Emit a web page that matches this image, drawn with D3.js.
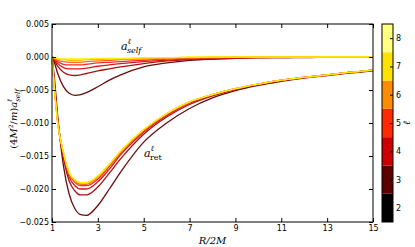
<!DOCTYPE html>
<html>
<head>
<meta charset="utf-8">
<script src="https://cdn.jsdelivr.net/npm/d3@7"></script>
<style>
  body { margin: 0; background: #fff; }
  .tick text { font-family: "DejaVu Sans", sans-serif; font-size: 8px; fill: #000; }
  .tick line { stroke: #000; }
  .math { font-family: "DejaVu Serif", serif; font-style: italic; fill: #000; }
</style>
</head>
<body>
<div id="chart"></div>
<script>
// radius grid R/2M
const R = [1, 1.1, 1.25, 1.5, 1.75, 2, 2.25, 2.5, 3, 3.5, 4, 5, 6, 7, 8, 9, 10, 11, 12, 13, 15];

// retarded field modes, l = 2..8
const retL2 = [0, -0.0030, -0.0090, -0.0165, -0.0208, -0.0230, -0.0239, -0.0240, -0.0225, -0.0200, -0.0174, -0.0129, -0.0100, -0.0078, -0.0062, -0.0051, -0.0043, -0.0037, -0.0032, -0.0028, -0.0021];
const retL3 = [0, -0.0039, -0.0096, -0.0153, -0.0188, -0.0203, -0.0209, -0.0209, -0.0197, -0.0176, -0.0154, -0.0117, -0.0091, -0.0072, -0.0059, -0.0049, -0.0042, -0.0036, -0.0031, -0.0027, -0.0020];
const retL4 = [0, -0.0042, -0.0098, -0.0149, -0.0182, -0.0195, -0.0200, -0.0200, -0.0189, -0.0170, -0.0148, -0.0114, -0.0089, -0.0070, -0.0058, -0.0049, -0.0041, -0.0035, -0.0031, -0.0027, -0.0020];
const retL5 = [0, -0.0043, -0.0099, -0.0147, -0.0178, -0.0190, -0.0195, -0.0195, -0.0185, -0.0166, -0.0145, -0.0112, -0.0087, -0.0069, -0.0057, -0.0048, -0.0041, -0.0035, -0.0031, -0.0027, -0.0020];
const retL6 = [0, -0.0044, -0.0099, -0.0146, -0.0177, -0.0189, -0.0193, -0.0193, -0.0183, -0.0164, -0.0144, -0.0111, -0.0086, -0.0068, -0.0057, -0.0048, -0.0041, -0.0035, -0.0031, -0.0027, -0.0020];
const retL7 = [0, -0.0045, -0.0100, -0.0145, -0.0176, -0.0187, -0.0191, -0.0191, -0.0181, -0.0163, -0.0143, -0.0110, -0.0086, -0.0068, -0.0057, -0.0048, -0.0041, -0.0035, -0.0031, -0.0027, -0.0020];
const retL8 = [0, -0.0045, -0.0100, -0.0145, -0.0175, -0.0186, -0.0190, -0.0190, -0.0180, -0.0162, -0.0142, -0.0110, -0.0086, -0.0068, -0.0057, -0.0048, -0.0041, -0.0035, -0.0031, -0.0027, -0.0020];

// self-force modes, l = 2..8
const selfL2 = [0, -0.0008, -0.0025, -0.0045, -0.0055, -0.0058, -0.0057, -0.0054, -0.0045, -0.0035, -0.0027, -0.0015, -0.0009, -0.0005, -0.0003, -0.0002, -0.0001, -0.0001, -0.0001, 0, 0];
const selfL3 = [0, -0.0005, -0.0014, -0.0023, -0.0027, -0.0028, -0.0027, -0.0025, -0.0021, -0.0018, -0.0015, -0.0010, -0.0006, -0.0004, -0.0003, -0.0002, -0.0001, -0.0001, 0, 0, 0];
const selfL4 = [0, -0.0004, -0.0010, -0.0016, -0.0018, -0.0018, -0.0018, -0.0017, -0.0014, -0.0012, -0.0010, -0.0007, -0.0005, -0.0003, -0.0002, -0.0001, -0.0001, 0, 0, 0, 0];
const selfL5 = [0, -0.0003, -0.0007, -0.0011, -0.0012, -0.0012, -0.0012, -0.0011, -0.0009, -0.0008, -0.0007, -0.0005, -0.0003, -0.0002, -0.0001, -0.0001, 0, 0, 0, 0, 0];
const selfL6 = [0, -0.0002, -0.0005, -0.0007, -0.0008, -0.0008, -0.0008, -0.0007, -0.0006, -0.0005, -0.0004, -0.0003, -0.0002, -0.0001, -0.0001, 0, 0, 0, 0, 0, 0];
const selfL7 = [0, -0.0001, -0.0003, -0.0004, -0.0005, -0.0005, -0.0005, -0.0004, -0.0004, -0.0003, -0.0003, -0.0002, -0.0001, -0.0001, 0, 0, 0, 0, 0, 0, 0];
const selfL8 = [0, -0.0001, -0.0002, -0.0003, -0.0003, -0.0003, -0.0003, -0.0003, -0.0002, -0.0002, -0.0002, -0.0001, -0.0001, 0, 0, 0, 0, 0, 0, 0, 0];

const ells = [2, 3, 4, 5, 6, 7, 8];
const retSeries = [retL2, retL3, retL4, retL5, retL6, retL7, retL8];
const selfSeries = [selfL2, selfL3, selfL4, selfL5, selfL6, selfL7, selfL8];
const curveColors = ["#6a0c0c", "#a81212", "#d41a1a", "#f0302a", "#ff6a2a", "#ffb800", "#ffee00"];
const barColors = ["#000000", "#5c0000", "#cc0000", "#ff2a00", "#ff8c00", "#ffe200", "#ffff80"];

const xTicks = [1, 3, 5, 7, 9, 11, 13, 15];
const yTicks = [0.005, 0, -0.005, -0.010, -0.015, -0.020, -0.025];

const W = 415, H = 247;
const margin = { top: 24, right: 42, bottom: 25, left: 52 };
const x0 = margin.left, x1 = W - margin.right, y0 = margin.top, y1 = H - margin.bottom;

const svg = d3.select("#chart").append("svg")
  .attr("width", W).attr("height", H);

const x = d3.scaleLinear().domain([1, 15]).range([x0, x1]);
const y = d3.scaleLinear().domain([-0.025, 0.005]).range([y1, y0]);

// curves
const line = d3.line()
  .x((d, i) => x(R[i]))
  .y(d => y(d))
  .curve(d3.curveMonotoneX);

const plot = svg.append("g");
ells.forEach((l, k) => {
  plot.append("path")
    .attr("d", line(retSeries[k]))
    .attr("fill", "none")
    .attr("stroke", curveColors[k])
    .attr("stroke-width", 1.3);
  plot.append("path")
    .attr("d", line(selfSeries[k]))
    .attr("fill", "none")
    .attr("stroke", curveColors[k])
    .attr("stroke-width", 1.3);
});

// axes, ticks pointing inward on all sides
svg.append("g")
  .attr("transform", `translate(0,${y1})`)
  .call(d3.axisBottom(x).tickValues(xTicks).tickFormat(d3.format("d")).tickSizeInner(-4).tickSizeOuter(0).tickPadding(3))
  .call(g => g.select(".domain").remove());
svg.append("g")
  .attr("transform", `translate(0,${y0})`)
  .call(d3.axisTop(x).tickValues(xTicks).tickFormat("").tickSizeInner(-4).tickSizeOuter(0))
  .call(g => g.select(".domain").remove());
svg.append("g")
  .attr("transform", `translate(${x0},0)`)
  .call(d3.axisLeft(y).tickValues(yTicks).tickFormat(d3.format(".3f")).tickSizeInner(-4).tickSizeOuter(0).tickPadding(3))
  .call(g => g.select(".domain").remove());
svg.append("g")
  .attr("transform", `translate(${x1},0)`)
  .call(d3.axisRight(y).tickValues(yTicks).tickFormat("").tickSizeInner(-4).tickSizeOuter(0))
  .call(g => g.select(".domain").remove());

svg.append("rect")
  .attr("x", x0).attr("y", y0)
  .attr("width", x1 - x0).attr("height", y1 - y0)
  .attr("fill", "none").attr("stroke", "#000").attr("stroke-width", 1);

// colorbar
const cbX = 382, cbW = 11;
const cy = d3.scaleLinear().domain([1.5, 8.5]).range([y1, y0]);
svg.selectAll(".band")
  .data(ells)
  .join("rect")
    .attr("class", "band")
    .attr("x", cbX)
    .attr("y", d => cy(d + 0.5))
    .attr("width", cbW)
    .attr("height", d => cy(d - 0.5) - cy(d + 0.5))
    .attr("fill", (d, i) => barColors[i]);
svg.append("g")
  .attr("transform", `translate(${cbX + cbW},0)`)
  .call(d3.axisRight(cy).tickValues(ells).tickFormat(d3.format("d")).tickSizeInner(-3).tickSizeOuter(0).tickPadding(3))
  .call(g => g.select(".domain").remove());
svg.append("rect")
  .attr("x", cbX).attr("y", y0)
  .attr("width", cbW).attr("height", y1 - y0)
  .attr("fill", "none").attr("stroke", "#000").attr("stroke-width", 1);
svg.append("text")
  .attr("class", "math")
  .attr("transform", `translate(410,${(y0 + y1) / 2}) rotate(-90)`)
  .attr("text-anchor", "middle")
  .style("font-size", "10px")
  .text("ℓ");

// axis labels
svg.append("text")
  .attr("class", "math")
  .attr("x", (x0 + x1) / 2).attr("y", 244)
  .attr("text-anchor", "middle")
  .style("font-size", "10px")
  .text("R/2M");

const yl = svg.append("text")
  .attr("class", "math")
  .attr("transform", `translate(17,${(y0 + y1) / 2 - 4}) rotate(-90)`)
  .attr("text-anchor", "middle")
  .style("font-size", "10px");
yl.append("tspan").style("font-style", "normal").text("(4");
yl.append("tspan").text("M");
yl.append("tspan").attr("dy", -4).style("font-size", "6px").style("font-style", "normal").text("2");
yl.append("tspan").attr("dy", 4).style("font-style", "normal").text("/");
yl.append("tspan").text("m");
yl.append("tspan").style("font-style", "normal").text(")");
yl.append("tspan").text("a");
yl.append("tspan").attr("dy", -5).style("font-size", "7px").text("ℓ");
yl.append("tspan").attr("dx", -3).attr("dy", 8).style("font-size", "7px").text("self");

// annotations
function label(px, py, sub, italicSub) {
  const t = svg.append("text").attr("class", "math")
    .attr("x", px).attr("y", py).style("font-size", "11px");
  t.append("tspan").text("a");
  t.append("tspan").attr("dy", -6).style("font-size", "8px").text("ℓ");
  t.append("tspan").attr("dx", -4).attr("dy", 9).style("font-size", "8px")
    .style("font-style", italicSub ? "italic" : "normal").text(sub);
}
label(121, 50, "self", true);
label(144, 157, "ret", false);
</script>
</body>
</html>
